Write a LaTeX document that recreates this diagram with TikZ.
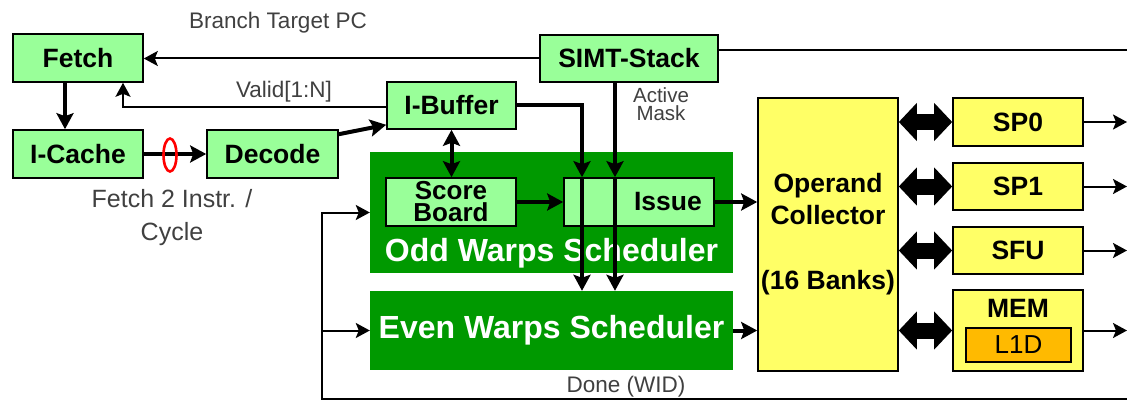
\documentclass[tikz,border=0pt]{standalone}
\usepackage{fontspec}
\setmainfont{Liberation Sans}
\usetikzlibrary{arrows.meta,shapes.geometric,calc}
\definecolor{lgreen}{HTML}{99FF99}
\definecolor{dgreen}{HTML}{009900}
\definecolor{unitfill}{HTML}{FFFF66}
\definecolor{cachefill}{HTML}{FFBA00}
\definecolor{labgray}{HTML}{404040}
\begin{document}
\begin{tikzpicture}[x=1pt,y=-1pt,
  stage/.style={draw=black, line width=1.6pt, fill=lgreen, inner sep=0pt,
    font=\bfseries\fontsize{26.5}{21}\selectfont, align=center},
  unit/.style={stage, fill=unitfill},
  sched/.style={draw=none, fill=dgreen, inner sep=0pt, text=white,
    font=\bfseries\fontsize{32}{32}\selectfont},
  lab/.style={text=labgray, inner sep=0pt, font=\fontsize{22.5}{22.5}\selectfont, align=center},
  thinline/.style={line width=2pt},
  thinarr/.style={line width=2pt, -{Stealth[length=14pt,width=15pt,inset=3pt]}},
  thickarr/.style={line width=4pt, -{Stealth[length=16pt,width=17pt,inset=3pt]}},
  thickdbl/.style={line width=4pt, {Stealth[length=16pt,width=17pt,inset=3pt]}-{Stealth[length=16pt,width=17pt,inset=3pt]}},
  fat/.style={line width=16pt, {Triangle[length=18pt,width=37pt]}-{Triangle[length=18pt,width=37pt]}}
]
\useasboundingbox (0,0) rectangle (1127,401);

% front end
\node[stage, minimum width=130pt, minimum height=48pt] (fetch) at (78,58) {Fetch};
\node[stage, minimum width=130pt, minimum height=48pt] (icache) at (78,154) {I-Cache};
\node[stage, minimum width=131pt, minimum height=48pt] (decode) at (272.5,154) {Decode};
\node[stage, minimum width=178pt, minimum height=47pt] (simt) at (629,58.5) {SIMT-Stack};
\node[stage, minimum width=129pt, minimum height=47pt] (ibuf) at (451.5,105.5) {I-Buffer};

% warp schedulers
\node[sched, minimum width=363pt, minimum height=121pt] (odd) at (551.5,212.5) {};
\node[sched] (oddlbl) at (551.5,253) {Odd Warps Scheduler};
\node[stage, minimum width=130pt, minimum height=48pt, font=\bfseries\fontsize{26}{22}\selectfont] (sb) at (451,202) {Score\\Board};
\node[stage, minimum width=150pt, minimum height=48pt] (issue) at (639,202) {};
\node[inner sep=0pt, font=\bfseries\fontsize{26.5}{26.5}\selectfont] (issuelbl) at (668,202) {Issue};
\node[sched, minimum width=363pt, minimum height=79pt] (even) at (551.5,330.5) {Even Warps Scheduler};

% operand collector and execution units
\node[unit, minimum width=140pt, minimum height=273pt, font=\bfseries\fontsize{26.5}{32}\selectfont] (oc) at (828,234.5) {Operand\\Collector\\[33pt](16 Banks)};
\node[unit, minimum width=130pt, minimum height=48pt] (sp0) at (1018,122) {SP0};
\node[unit, minimum width=130pt, minimum height=47pt] (sp1) at (1018,186.5) {SP1};
\node[unit, minimum width=130pt, minimum height=47pt] (sfu) at (1018,250.5) {SFU};
\node[unit, minimum width=130pt, minimum height=81pt] (mem) at (1018,330.5) {};
\node[inner sep=0pt, font=\bfseries\fontsize{26.5}{26.5}\selectfont] (memlbl) at (1018,308) {MEM};
\node[draw=black, line width=1.6pt, fill=cachefill, inner sep=0pt, minimum width=105pt, minimum height=34pt,
  font=\fontsize{26}{26}\selectfont] (l1d) at (1018.5,345) {L1D};

% text labels
\node[lab] (bpc) at (278,23) {Branch Target PC};
\node[lab] (valid) at (284,92) {Valid[1:N]};
\node[lab, font=\fontsize{20.5}{18.5}\selectfont] (amask) at (661,104) {Active\\Mask};
\node[lab, font=\fontsize{25}{33}\selectfont] (f2i) at (172,218) {Fetch 2 Instr. /\\Cycle};
\node[lab] (done) at (626,387) {Done (WID)};

% helper coordinates
\coordinate (rt) at (1127,50);
\coordinate (vc) at (123,107);
\coordinate (fx) at (65,0);
\coordinate (ax) at (582,0);
\coordinate (bx) at (615,0);
\coordinate (fb) at (322,399);
\coordinate (fbr) at (1127,399);
\coordinate (ox) at (1127,0);

% fetch loop
\draw[thinarr] (simt.west) -- (simt.west -| fetch.east);
\draw[thinline] (simt.east |- rt) -- (rt);
\draw[thinarr] (ibuf.west |- vc) -- (vc) -- (vc |- fetch.south);
\draw[thickarr] (fetch.south -| fx) -- (icache.north -| fx);
\draw[thickarr] (icache.east) -- (decode.west);
\node[draw=red, ellipse, line width=2.6pt, inner sep=0pt, minimum width=13pt, minimum height=33pt] (ring) at (170,155) {};
\draw[thickarr] ($(decode.north east)+(0,5)$) -- ($(ibuf.south west)+(0,-5)$);

% into the schedulers
\draw[thickdbl] (ibuf.south) -- (ibuf.south |- sb.north);
\draw[thickarr] (ibuf.east) -| (issue.north -| ax);
\draw[thickarr] (issue.north -| ax) -- (even.north -| ax);
\draw[thickarr] (simt.south -| bx) -- (issue.north -| bx);
\draw[thickarr] (issue.north -| bx) -- (even.north -| bx);
\draw[thickarr] (sb.east) -- (issue.west);
\draw[thickarr] (issue.east) -- (issue.east -| oc.west);
\draw[thickarr] (even.east) -- (even.east -| oc.west);

% completion feedback
\draw[thinarr] (fbr) -- (fb) |- (odd.west);
\draw[thinarr] (fb |- even.west) -- (even.west);

% register file ports and unit outputs
\draw[fat] (oc.east |- sp0.west) -- (sp0.west);
\draw[fat] (oc.east |- sp1.west) -- (sp1.west);
\draw[fat] (oc.east |- sfu.west) -- (sfu.west);
\draw[fat] (oc.east |- mem.west) -- (mem.west);
\draw[thinarr] (sp0.east) -- (sp0.east -| ox);
\draw[thinarr] (sp1.east) -- (sp1.east -| ox);
\draw[thinarr] (sfu.east) -- (sfu.east -| ox);
\draw[thinarr] (mem.east) -- (mem.east -| ox);
\end{tikzpicture}
\end{document}
